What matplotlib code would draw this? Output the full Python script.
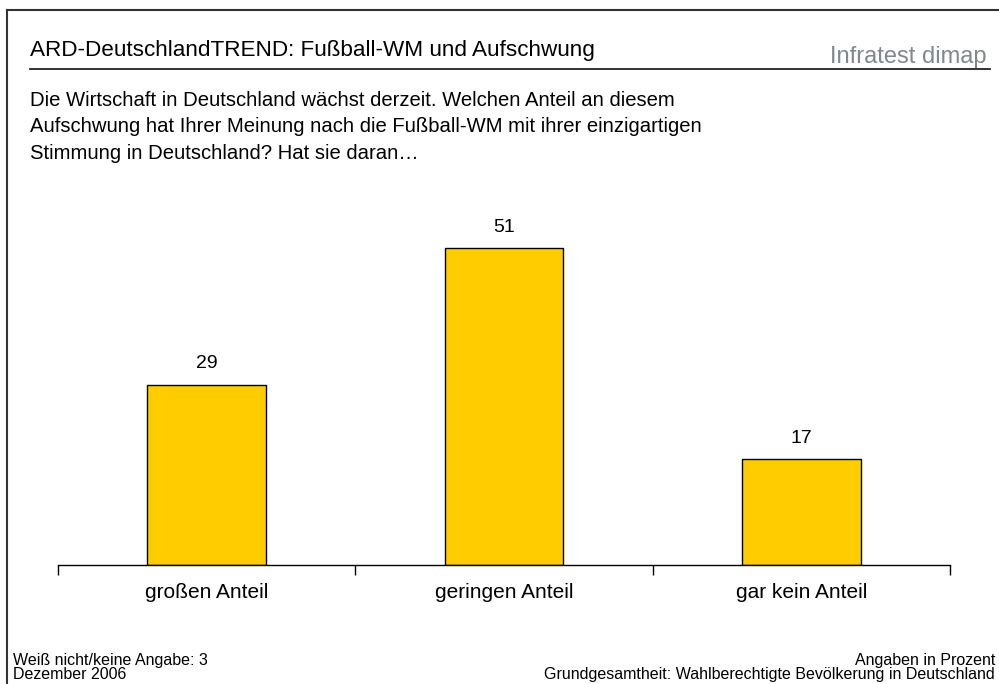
import matplotlib
matplotlib.use("Agg")
import matplotlib.pyplot as plt
from matplotlib.lines import Line2D

# === Daten ===
categories = ["großen Anteil", "geringen Anteil", "gar kein Anteil"]
values = [29, 51, 17]

title = "ARD-DeutschlandTREND: Fußball-WM und Aufschwung"
question = [
    "Die Wirtschaft in Deutschland wächst derzeit. Welchen Anteil an diesem",
    "Aufschwung hat Ihrer Meinung nach die Fußball-WM mit ihrer einzigartigen",
    "Stimmung in Deutschland? Hat sie daran…",
]
footer_left = ["Weiß nicht/keine Angabe: 3", "Dezember 2006"]
footer_right = ["Angaben in Prozent", "Grundgesamtheit: Wahlberechtigte Bevölkerung in Deutschland"]

plt.rcParams["font.family"] = ["Liberation Sans", "DejaVu Sans"]

W, H = 999, 684
fig = plt.figure(figsize=(W / 100, H / 100), dpi=100)


def fx(px):
    return px / W


def fy(py):
    return 1 - py / H


# === Rahmen und Kopf ===
fig.add_artist(Line2D([fx(7), fx(7)], [0, fy(10)], color="#333333", lw=1.5, transform=fig.transFigure))
fig.add_artist(Line2D([fx(7), 1], [fy(10), fy(10)], color="#333333", lw=1.5, transform=fig.transFigure))
fig.add_artist(Line2D([fx(30), fx(990)], [fy(69), fy(69)], color="#222222", lw=1.3, transform=fig.transFigure))

fig.text(fx(30), fy(56), title, fontsize=16.2, va="baseline", ha="left")
fig.text(fx(986), fy(63), "Infratest dimap", fontsize=17, color="#80878d",
         va="baseline", ha="right")

for i, line in enumerate(question):
    fig.text(fx(30), fy(105.5 + i * 26.6), line, fontsize=14.6, va="baseline", ha="left")

# === Balken ===
ax = fig.add_axes([fx(58), fy(565), fx(950) - fx(58), fy(215) - fy(565)])
x = list(range(len(categories)))
bars = ax.bar(x, values, width=0.4, color="#FFCC00", edgecolor="black", linewidth=1)
for b, v in zip(bars, values):
    ax.text(b.get_x() + b.get_width() / 2, v + 2.0, str(v), ha="center", va="bottom",
            fontsize=14)

ax.set_xlim(-0.5, len(categories) - 0.5)
ax.set_ylim(0, 56.3)
for s in ["top", "right", "left"]:
    ax.spines[s].set_visible(False)
ax.spines["bottom"].set_linewidth(1)
ax.set_yticks([])
ax.set_xticks(x)
ax.set_xticklabels(categories, fontsize=15)
ax.tick_params(axis="x", which="major", length=0, pad=13)
ax.set_xticks([i - 0.5 for i in range(len(categories) + 1)], minor=True)
ax.tick_params(axis="x", which="minor", length=7, width=1, direction="out")

# === Fußzeile ===
for i, line in enumerate(footer_left):
    fig.text(fx(13), fy(665 + i * 14), line, fontsize=11.5, va="baseline", ha="left")
for i, line in enumerate(footer_right):
    fig.text(fx(995), fy(665 + i * 14), line, fontsize=11.5, va="baseline", ha="right")

fig.savefig("out.png", dpi=100)
